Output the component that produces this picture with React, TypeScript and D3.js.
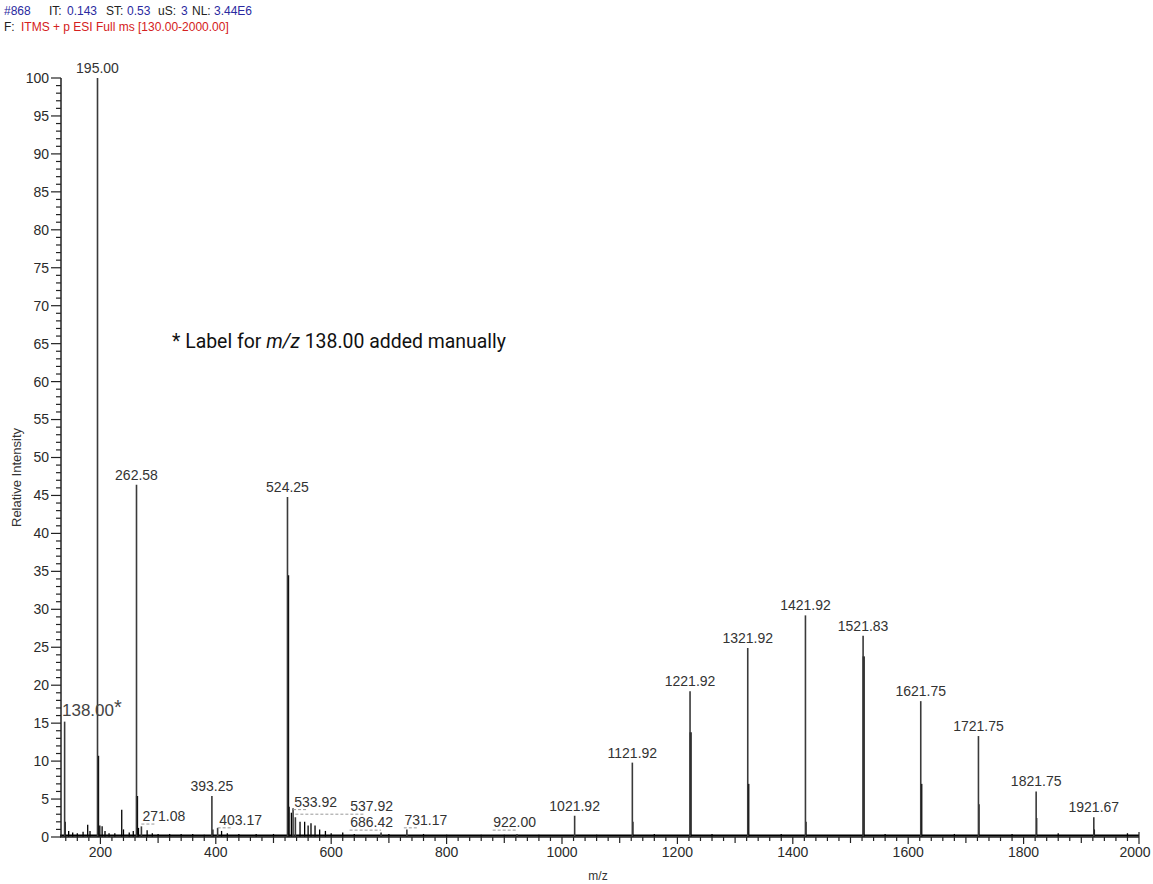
import React from 'react';
import * as d3 from 'd3';

// labelled peaks (m/z, relative intensity)
const peakMz = [138.0, 195.0, 262.58, 271.08, 393.25, 403.17, 524.25, 533.92, 537.92, 686.42, 731.17, 922.0,
  1021.92, 1121.92, 1221.92, 1321.92, 1421.92, 1521.83, 1621.75, 1721.75, 1821.75, 1921.67];
const peakIntensity = [15.2, 100, 46.4, 1.4, 5.4, 1.2, 44.8, 3.8, 2.6, 0.6, 1.0, 0.4,
  2.8, 9.8, 19.2, 24.9, 29.2, 26.5, 17.9, 13.3, 6.0, 2.6];

// unlabelled / isotope peaks
const minorMz = [139, 145, 152, 160, 170, 178, 182, 196, 199, 203, 208, 215, 225, 237, 240, 250, 257, 263.5, 266,
  281, 290, 300, 320, 340, 360, 380, 395, 410, 420, 440, 470, 500, 525.3, 527, 531, 546, 554, 560, 565, 572, 580,
  590, 600, 620, 640, 700, 760, 800, 860, 900, 960, 1060, 1122.9, 1160, 1222.9, 1260, 1322.9, 1380, 1422.9, 1522.8,
  1560, 1622.7, 1680, 1722.7, 1780, 1822.7, 1860, 1922.7, 1980];
const minorIntensity = [2.0, 0.8, 0.6, 0.5, 0.7, 1.6, 0.8, 10.7, 1.5, 1.4, 0.8, 0.5, 0.5, 3.6, 1.0, 0.6, 0.8, 5.4, 1.2,
  0.9, 0.5, 0.4, 0.4, 0.4, 0.4, 0.3, 1.0, 0.8, 0.5, 0.4, 0.4, 0.4, 34.5, 4.0, 3.2, 2.0, 2.0, 1.5, 1.8, 1.5, 1.0,
  0.8, 0.5, 0.6, 0.4, 0.4, 0.4, 0.3, 0.3, 0.3, 0.3, 0.3, 2.0, 0.4, 13.8, 0.4, 7.0, 0.4, 2.0, 23.8,
  0.4, 7.0, 0.4, 4.3, 0.4, 2.5, 0.5, 1.0, 0.5];

// labels moved off their peak (label centre m/z, label baseline intensity)
const movedLabels: Record<string, [number, number]> = {
  '271.08': [310, 2.1],
  '403.17': [443, 1.6],
  '533.92': [573, 4.0],
  '537.92': [670, 3.4],
  '686.42': [670, 1.3],
  '731.17': [764, 1.6],
  '922.00': [918, 1.3],
};

const xTicks = [200, 400, 600, 800, 1000, 1200, 1400, 1600, 1800, 2000];
const yTicks = [0, 5, 10, 15, 20, 25, 30, 35, 40, 45, 50, 55, 60, 65, 70, 75, 80, 85, 90, 95, 100];

const FONT = 'Liberation Sans, Arial, sans-serif';

export default function App() {
  const x = d3.scaleLinear().domain([130, 2000]).range([60, 1139]);
  const y = d3.scaleLinear().domain([0, 100]).range([837, 78]);

  const minorX = d3.range(140, 2001, 20);
  const minorY = d3.range(0, 101, 1);

  return (
    <svg width={1153} height={884} style={{ position: 'absolute', left: 0, top: 0, background: '#fff' }}
      fontFamily={FONT}>
      {/* header */}
      <text y={15} fontSize={12} fill="#222">
        <tspan x={4} fill="#2a2aa0">#868</tspan>
        <tspan x={49}>IT:</tspan><tspan x={67} fill="#2a2aa0">0.143</tspan>
        <tspan x={106}>ST:</tspan><tspan x={127} fill="#2a2aa0">0.53</tspan>
        <tspan x={158}>uS:</tspan><tspan x={181} fill="#2a2aa0">3</tspan>
        <tspan x={192}>NL:</tspan><tspan x={214} fill="#2a2aa0">3.44E6</tspan>
      </text>
      <text y={31} fontSize={12} fill="#222">
        <tspan x={4}>F:</tspan>
        <tspan x={21} fill="#d42020">ITMS + p ESI Full ms [130.00-2000.00]</tspan>
      </text>

      {/* baseline noise */}
      <line x1={x(130)} x2={x(2000)} y1={y(0.2)} y2={y(0.2)} stroke="#000" strokeWidth={2} />

      {/* minor peaks */}
      {minorMz.map((m, i) => (
        <line key={'m' + i} x1={x(m)} x2={x(m)} y1={y(0)} y2={y(minorIntensity[i])} stroke="#000"
          strokeWidth={minorIntensity[i] > 5 ? 2.2 : 1.3} />
      ))}

      {/* labelled peaks */}
      {peakMz.map((m, i) => (
        <line key={'p' + i} x1={x(m)} x2={x(m)} y1={y(0)} y2={y(peakIntensity[i])} stroke="#3a3a3a"
          strokeWidth={1.6} />
      ))}

      {/* peak labels */}
      {peakMz.map((m, i) => {
        const t = m.toFixed(2);
        if (t === '138.00') {
          return (
            <text key={'l' + i} x={62} y={y(15.9)} fontSize={17} fill="#444">
              138.00<tspan fontSize={20} dy={-2}>*</tspan>
            </text>
          );
        }
        const mv = movedLabels[t];
        if (mv) {
          const lx = x(mv[0]);
          const ly = y(mv[1]);
          const left = lx - 22;
          const px = x(m);
          return (
            <g key={'l' + i}>
              <line x1={Math.min(px, left)} x2={Math.max(px, left + 14)} y1={ly + 3} y2={ly + 3}
                stroke="#999" strokeDasharray="3,2" strokeWidth={1} />
              <text x={lx} y={ly} fontSize={14} textAnchor="middle" fill="#333">{t}</text>
            </g>
          );
        }
        return (
          <text key={'l' + i} x={x(m)} y={y(peakIntensity[i]) - 5} fontSize={14} textAnchor="middle" fill="#333">
            {t}
          </text>
        );
      })}

      {/* y axis */}
      <line x1={61} x2={61} y1={y(100)} y2={y(0)} stroke="#222" strokeWidth={1.5} />
      {minorY.map(v => (
        <line key={'ym' + v} x1={v % 5 === 0 ? 51 : 56} x2={61} y1={y(v)} y2={y(v)} stroke="#222" strokeWidth={1.2} />
      ))}
      {yTicks.map(v => (
        <text key={'yt' + v} x={49} y={y(v)} dy="0.35em" fontSize={14} textAnchor="end" fill="#2a2a2a">{v}</text>
      ))}
      <text transform={`translate(21,${(y(0) + y(100)) / 2 + 20}) rotate(-90)`} fontSize={13} textAnchor="middle"
        fill="#333">Relative Intensity</text>

      {/* x axis */}
      <line x1={x(130)} x2={x(2000)} y1={y(0)} y2={y(0)} stroke="#222" strokeWidth={1.5} />
      {minorX.map(v => (
        <line key={'xm' + v} x1={x(v)} x2={x(v)} y1={y(0)} y2={y(0) + (v % 200 === 0 ? 7 : v % 100 === 0 ? 6 : 4)}
          stroke="#222" strokeWidth={1.2} />
      ))}
      <line x1={x(2000)} x2={x(2000)} y1={y(0) - 5} y2={y(0)} stroke="#222" strokeWidth={1.2} />
      {xTicks.map(v => (
        <text key={'xt' + v} x={Math.min(x(v), 1135)} y={y(0) + 20} fontSize={14} textAnchor="middle"
          fill="#2a2a2a">{v}</text>
      ))}
      <text x={598} y={880} fontSize={12} textAnchor="middle" fill="#333">m/z</text>

      {/* annotation */}
      <text x={172} y={348} fontSize={21} fill="#111" textLength={334} lengthAdjust="spacingAndGlyphs"
        fontFamily="Liberation Sans Narrow, Roboto, Arial, sans-serif">
        * Label for <tspan fontStyle="italic">m/z</tspan> 138.00 added manually
      </text>
    </svg>
  );
}
